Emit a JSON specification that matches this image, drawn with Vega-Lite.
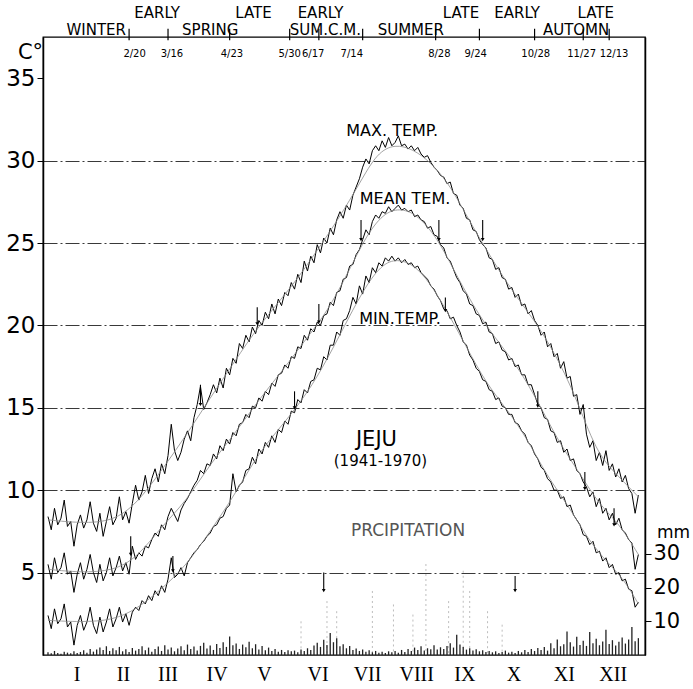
{
"$schema":"https://vega.github.io/schema/vega-lite/v6.json",
"width":602,"height":618,"autosize":"none",
"padding":{"left":43,"top":37,"right":48,"bottom":34},
"background":"white",
"config":{"view":{"stroke":"#000","strokeWidth":1.3},"axis":{"domainColor":"#000","tickColor":"#000","labelColor":"#000","titleColor":"#000","labelFont":"DejaVu Sans","titleFont":"DejaVu Sans","titleFontWeight":"normal"},"text":{"font":"DejaVu Sans","color":"#000"}},
"datasets":{
"daily":[
{"d":0,"mx":8.4,"me":5.5,"mn":2.4,"p":0.8},{"d":2,"mx":7.6,"me":4.6,"mn":1.6,"p":0.5},{"d":4,"mx":8.9,"me":5.9,"mn":2.8,"p":1.2},{"d":6,"mx":7.9,"me":5.0,"mn":1.9,"p":0.6},{"d":8,"mx":8.3,"me":5.3,"mn":2.2,"p":0.4},{"d":10,"mx":9.4,"me":6.2,"mn":3.1,"p":1.0},{"d":12,"mx":7.8,"me":4.9,"mn":1.7,"p":0.7},{"d":14,"mx":8.1,"me":5.1,"mn":2.0,"p":0.5},{"d":16,"mx":6.6,"me":3.8,"mn":0.6,"p":1.1},{"d":18,"mx":7.9,"me":4.9,"mn":1.8,"p":0.6},
{"d":20,"mx":8.5,"me":5.6,"mn":2.4,"p":0.9},{"d":22,"mx":7.7,"me":4.6,"mn":1.5,"p":1.4},{"d":24,"mx":8.2,"me":5.2,"mn":2.0,"p":0.7},{"d":26,"mx":9.3,"me":6.1,"mn":2.9,"p":1.8},{"d":28,"mx":8.0,"me":5.0,"mn":1.8,"p":1.0},{"d":30,"mx":7.5,"me":4.4,"mn":1.3,"p":1.6},{"d":32,"mx":8.6,"me":5.5,"mn":2.3,"p":2.2},{"d":34,"mx":7.2,"me":4.5,"mn":1.4,"p":1.5},{"d":36,"mx":8.1,"me":5.0,"mn":2.0,"p":2.6},{"d":38,"mx":9.0,"me":5.9,"mn":2.8,"p":1.2},
{"d":40,"mx":7.9,"me":4.8,"mn":1.7,"p":2.0},{"d":42,"mx":8.3,"me":5.3,"mn":2.2,"p":1.4},{"d":44,"mx":9.6,"me":6.0,"mn":2.9,"p":2.4},{"d":46,"mx":8.2,"me":5.1,"mn":2.0,"p":1.1},{"d":48,"mx":8.7,"me":5.6,"mn":2.5,"p":1.7},{"d":50,"mx":8.0,"me":4.9,"mn":1.8,"p":0.9},{"d":52,"mx":9.2,"me":6.6,"mn":2.6,"p":2.1},{"d":54,"mx":10.3,"me":5.8,"mn":2.9,"p":1.3},{"d":56,"mx":9.4,"me":6.2,"mn":2.7,"p":1.8},{"d":58,"mx":9.9,"me":6.0,"mn":3.3,"p":2.6},
{"d":60,"mx":10.9,"me":6.6,"mn":3.1,"p":1.4},{"d":62,"mx":9.8,"me":6.5,"mn":3.6,"p":2.2},{"d":64,"mx":10.7,"me":7.0,"mn":3.3,"p":1.0},{"d":66,"mx":11.3,"me":7.4,"mn":3.9,"p":1.8},{"d":68,"mx":10.5,"me":7.2,"mn":3.6,"p":2.5},{"d":70,"mx":11.6,"me":7.9,"mn":4.2,"p":1.2},{"d":72,"mx":11.0,"me":7.6,"mn":3.8,"p":2.9},{"d":74,"mx":12.1,"me":8.4,"mn":4.6,"p":1.6},{"d":76,"mx":14.0,"me":8.9,"mn":5.9,"p":2.2},{"d":78,"mx":12.4,"me":8.5,"mn":4.7,"p":1.1},
{"d":80,"mx":11.8,"me":8.1,"mn":4.9,"p":1.9},{"d":82,"mx":12.3,"me":8.8,"mn":5.3,"p":2.6},{"d":84,"mx":13.1,"me":9.2,"mn":4.8,"p":1.4},{"d":86,"mx":13.6,"me":9.5,"mn":5.6,"p":3.1},{"d":88,"mx":13.0,"me":9.9,"mn":5.9,"p":1.8},{"d":90,"mx":14.4,"me":10.3,"mn":6.2,"p":2.5},{"d":92,"mx":15.2,"me":10.6,"mn":6.4,"p":1.3},{"d":94,"mx":16.3,"me":11.2,"mn":6.7,"p":2.7},{"d":96,"mx":14.9,"me":11.0,"mn":6.9,"p":3.6},{"d":98,"mx":15.3,"me":11.6,"mn":7.2,"p":1.9},
{"d":100,"mx":15.8,"me":11.5,"mn":7.4,"p":2.8},{"d":102,"mx":16.4,"me":12.2,"mn":7.8,"p":1.5},{"d":104,"mx":15.9,"me":11.9,"mn":7.9,"p":3.3},{"d":106,"mx":16.8,"me":12.7,"mn":8.3,"p":2.1},{"d":108,"mx":16.2,"me":12.4,"mn":8.4,"p":3.8},{"d":110,"mx":17.4,"me":13.1,"mn":8.9,"p":2.4},{"d":112,"mx":17.0,"me":12.8,"mn":9.1,"p":5.5},{"d":114,"mx":18.0,"me":13.5,"mn":11.0,"p":2.9},{"d":116,"mx":17.7,"me":13.3,"mn":9.9,"p":3.4},{"d":118,"mx":18.9,"me":14.0,"mn":10.3,"p":1.8},
{"d":120,"mx":18.6,"me":14.1,"mn":10.5,"p":3.1},{"d":122,"mx":19.4,"me":14.6,"mn":11.2,"p":2.3},{"d":124,"mx":19.0,"me":14.4,"mn":11.3,"p":3.9},{"d":126,"mx":19.9,"me":15.1,"mn":12.0,"p":2.0},{"d":128,"mx":19.5,"me":15.0,"mn":11.6,"p":3.2},{"d":130,"mx":20.3,"me":15.6,"mn":12.5,"p":1.6},{"d":132,"mx":20.0,"me":15.4,"mn":12.2,"p":2.7},{"d":134,"mx":20.8,"me":16.0,"mn":12.9,"p":1.4},{"d":136,"mx":20.4,"me":15.8,"mn":12.6,"p":2.2},{"d":138,"mx":21.3,"me":16.5,"mn":13.3,"p":1.2},
{"d":140,"mx":20.7,"me":16.3,"mn":12.9,"p":1.8},{"d":142,"mx":21.6,"me":17.0,"mn":13.7,"p":1.0},{"d":144,"mx":21.2,"me":17.1,"mn":13.5,"p":1.5},{"d":146,"mx":22.0,"me":17.6,"mn":14.2,"p":0.9},{"d":148,"mx":21.8,"me":17.4,"mn":14.0,"p":1.4},{"d":150,"mx":22.6,"me":18.1,"mn":14.8,"p":1.1},{"d":152,"mx":22.2,"me":18.0,"mn":14.7,"p":1.3},{"d":154,"mx":23.1,"me":18.7,"mn":15.5,"p":0.8},{"d":156,"mx":22.6,"me":18.6,"mn":15.3,"p":1.6},{"d":158,"mx":23.9,"me":19.4,"mn":16.1,"p":1.2},
{"d":160,"mx":23.3,"me":19.1,"mn":15.9,"p":2.0},{"d":162,"mx":24.2,"me":19.8,"mn":16.6,"p":1.5},{"d":164,"mx":23.8,"me":19.6,"mn":16.7,"p":2.8},{"d":166,"mx":24.9,"me":20.2,"mn":17.4,"p":3.6},{"d":168,"mx":24.4,"me":20.0,"mn":17.3,"p":2.4},{"d":170,"mx":25.3,"me":20.6,"mn":18.1,"p":4.5},{"d":172,"mx":25.0,"me":20.7,"mn":17.9,"p":3.0},{"d":174,"mx":25.9,"me":21.4,"mn":18.8,"p":6.5},{"d":176,"mx":25.5,"me":21.2,"mn":18.8,"p":3.8},{"d":178,"mx":26.4,"me":22.0,"mn":19.6,"p":5.0},
{"d":180,"mx":26.9,"me":22.1,"mn":19.4,"p":2.6},{"d":182,"mx":26.5,"me":22.8,"mn":20.3,"p":3.2},{"d":184,"mx":27.3,"me":22.9,"mn":20.4,"p":2.0},{"d":186,"mx":27.0,"me":23.6,"mn":20.9,"p":2.7},{"d":188,"mx":27.9,"me":23.7,"mn":21.7,"p":1.5},{"d":190,"mx":28.4,"me":24.3,"mn":21.3,"p":1.9},{"d":192,"mx":28.9,"me":24.6,"mn":22.4,"p":1.2},{"d":194,"mx":29.6,"me":25.2,"mn":21.9,"p":1.6},{"d":196,"mx":30.1,"me":25.8,"mn":23.0,"p":1.0},{"d":198,"mx":29.8,"me":25.5,"mn":22.6,"p":1.4},
{"d":200,"mx":30.6,"me":26.3,"mn":23.5,"p":0.8},{"d":202,"mx":30.9,"me":26.7,"mn":23.2,"p":1.2},{"d":204,"mx":30.6,"me":26.5,"mn":23.8,"p":0.7},{"d":206,"mx":31.2,"me":26.9,"mn":23.6,"p":1.0},{"d":208,"mx":30.8,"me":26.8,"mn":24.1,"p":0.6},{"d":210,"mx":31.4,"me":27.2,"mn":23.9,"p":1.1},{"d":212,"mx":30.9,"me":26.9,"mn":24.2,"p":0.8},{"d":214,"mx":31.1,"me":27.1,"mn":23.9,"p":1.2},{"d":216,"mx":31.5,"me":27.3,"mn":24.1,"p":0.7},{"d":218,"mx":30.9,"me":27.0,"mn":23.8,"p":1.5},
{"d":220,"mx":31.0,"me":27.1,"mn":24.0,"p":0.9},{"d":222,"mx":30.7,"me":26.9,"mn":23.7,"p":1.8},{"d":224,"mx":30.9,"me":27.0,"mn":23.8,"p":1.2},{"d":226,"mx":30.6,"me":26.6,"mn":23.5,"p":2.2},{"d":228,"mx":30.8,"me":26.7,"mn":23.6,"p":1.5},{"d":230,"mx":30.4,"me":26.4,"mn":23.2,"p":2.6},{"d":232,"mx":30.2,"me":26.3,"mn":23.0,"p":1.3},{"d":234,"mx":30.3,"me":25.9,"mn":22.8,"p":2.0},{"d":236,"mx":29.9,"me":26.0,"mn":22.4,"p":1.7},{"d":238,"mx":29.6,"me":25.5,"mn":22.2,"p":2.9},
{"d":240,"mx":29.4,"me":25.4,"mn":21.8,"p":1.6},{"d":242,"mx":29.1,"me":24.9,"mn":21.5,"p":2.3},{"d":244,"mx":29.0,"me":24.7,"mn":21.0,"p":1.8},{"d":246,"mx":28.6,"me":24.1,"mn":20.9,"p":2.7},{"d":248,"mx":28.7,"me":23.9,"mn":20.4,"p":3.5},{"d":250,"mx":28.0,"me":23.4,"mn":20.5,"p":2.2},{"d":252,"mx":27.9,"me":22.9,"mn":20.0,"p":6.0},{"d":254,"mx":27.3,"me":22.6,"mn":19.6,"p":3.1},{"d":256,"mx":27.1,"me":22.1,"mn":19.0,"p":2.4},{"d":258,"mx":26.5,"me":21.9,"mn":18.8,"p":1.6},
{"d":260,"mx":26.4,"me":21.3,"mn":18.2,"p":2.0},{"d":262,"mx":25.8,"me":21.2,"mn":17.9,"p":1.3},{"d":264,"mx":25.7,"me":20.7,"mn":17.4,"p":1.7},{"d":266,"mx":25.2,"me":20.6,"mn":17.2,"p":1.1},{"d":268,"mx":24.9,"me":20.1,"mn":16.7,"p":1.4},{"d":270,"mx":24.7,"me":20.2,"mn":16.6,"p":0.9},{"d":272,"mx":24.1,"me":19.6,"mn":16.1,"p":1.2},{"d":274,"mx":24.0,"me":19.5,"mn":16.0,"p":0.8},{"d":276,"mx":23.4,"me":18.9,"mn":15.5,"p":1.1},{"d":278,"mx":23.5,"me":19.0,"mn":15.6,"p":0.6},
{"d":280,"mx":22.9,"me":18.5,"mn":15.1,"p":0.9},{"d":282,"mx":22.8,"me":18.4,"mn":15.0,"p":1.3},{"d":284,"mx":22.2,"me":17.9,"mn":14.6,"p":0.7},{"d":286,"mx":22.3,"me":18.0,"mn":14.6,"p":1.0},{"d":288,"mx":21.7,"me":17.5,"mn":14.1,"p":0.6},{"d":290,"mx":21.9,"me":17.6,"mn":14.0,"p":1.2},{"d":292,"mx":21.2,"me":17.0,"mn":13.6,"p":0.8},{"d":294,"mx":21.3,"me":17.0,"mn":13.4,"p":1.5},{"d":296,"mx":20.7,"me":16.4,"mn":12.9,"p":0.9},{"d":298,"mx":20.9,"me":16.4,"mn":12.7,"p":1.8},
{"d":300,"mx":20.3,"me":15.8,"mn":12.2,"p":1.2},{"d":302,"mx":20.0,"me":15.2,"mn":11.9,"p":2.1},{"d":304,"mx":19.4,"me":15.0,"mn":11.4,"p":1.5},{"d":306,"mx":19.6,"me":14.4,"mn":11.2,"p":2.4},{"d":308,"mx":18.7,"me":14.3,"mn":10.7,"p":1.3},{"d":310,"mx":18.9,"me":13.6,"mn":10.5,"p":3.5},{"d":312,"mx":18.1,"me":13.5,"mn":10.0,"p":2.0},{"d":314,"mx":18.3,"me":12.9,"mn":10.0,"p":4.6},{"d":316,"mx":17.4,"me":13.0,"mn":9.5,"p":2.6},{"d":318,"mx":17.8,"me":12.3,"mn":9.6,"p":3.2},
{"d":320,"mx":16.8,"me":12.5,"mn":9.0,"p":7.0},{"d":322,"mx":16.9,"me":11.8,"mn":9.1,"p":3.8},{"d":324,"mx":15.7,"me":11.9,"mn":8.5,"p":2.5},{"d":326,"mx":15.8,"me":11.2,"mn":8.2,"p":5.4},{"d":328,"mx":14.6,"me":11.0,"mn":7.9,"p":3.0},{"d":330,"mx":15.2,"me":10.5,"mn":7.3,"p":4.2},{"d":332,"mx":13.4,"me":10.2,"mn":7.2,"p":2.7},{"d":334,"mx":12.6,"me":9.6,"mn":6.7,"p":6.8},{"d":336,"mx":13.0,"me":9.9,"mn":6.9,"p":3.5},{"d":338,"mx":11.8,"me":9.0,"mn":6.2,"p":4.8},
{"d":340,"mx":12.3,"me":9.5,"mn":6.3,"p":2.9},{"d":342,"mx":11.5,"me":8.6,"mn":5.7,"p":4.0},{"d":344,"mx":12.4,"me":8.9,"mn":5.9,"p":7.5},{"d":346,"mx":11.2,"me":8.2,"mn":5.3,"p":3.3},{"d":348,"mx":11.6,"me":8.6,"mn":5.5,"p":4.4},{"d":350,"mx":10.8,"me":7.9,"mn":4.9,"p":2.8},{"d":352,"mx":11.3,"me":8.3,"mn":5.0,"p":3.9},{"d":354,"mx":10.5,"me":7.6,"mn":4.5,"p":5.2},{"d":356,"mx":10.9,"me":7.4,"mn":4.6,"p":3.4},{"d":358,"mx":10.1,"me":7.0,"mn":4.0,"p":4.6},
{"d":360,"mx":9.8,"me":6.8,"mn":3.9,"p":8.3},{"d":362,"mx":8.6,"me":5.2,"mn":2.9,"p":4.1},{"d":364,"mx":9.7,"me":6.1,"mn":3.2,"p":5.0}
],
"smooth":[
{"s":"a","d":0,"T":8.2},{"s":"a","d":20,"T":8.0},{"s":"a","d":40,"T":8.1},{"s":"a","d":55,"T":9.2},{"s":"a","d":70,"T":11.2},{"s":"a","d":85,"T":13.3},{"s":"a","d":100,"T":15.6},{"s":"a","d":115,"T":17.8},{"s":"a","d":130,"T":20.0},{"s":"a","d":150,"T":22.3},{"s":"a","d":165,"T":24.4},{"s":"a","d":180,"T":26.6},{"s":"a","d":192,"T":28.6},{"s":"a","d":203,"T":30.5},{"s":"a","d":214,"T":31.0},{"s":"a","d":225,"T":30.7},{"s":"a","d":236,"T":29.9},{"s":"a","d":248,"T":28.5},{"s":"a","d":260,"T":26.3},{"s":"a","d":272,"T":24.3},{"s":"a","d":286,"T":22.1},{"s":"a","d":300,"T":20.3},{"s":"a","d":312,"T":18.4},{"s":"a","d":325,"T":15.8},{"s":"a","d":338,"T":12.3},{"s":"a","d":350,"T":11.0},{"s":"a","d":364,"T":9.6},
{"s":"b","d":0,"T":5.2},{"s":"b","d":20,"T":5.0},{"s":"b","d":40,"T":5.1},{"s":"b","d":55,"T":5.9},{"s":"b","d":70,"T":7.8},{"s":"b","d":85,"T":9.3},{"s":"b","d":100,"T":11.6},{"s":"b","d":115,"T":13.4},{"s":"b","d":130,"T":15.5},{"s":"b","d":145,"T":17.3},{"s":"b","d":160,"T":19.3},{"s":"b","d":172,"T":20.8},{"s":"b","d":185,"T":23.2},{"s":"b","d":197,"T":25.6},{"s":"b","d":208,"T":26.9},{"s":"b","d":218,"T":27.1},{"s":"b","d":228,"T":26.7},{"s":"b","d":240,"T":25.3},{"s":"b","d":250,"T":23.4},{"s":"b","d":262,"T":21.2},{"s":"b","d":275,"T":19.3},{"s":"b","d":289,"T":17.6},{"s":"b","d":302,"T":15.4},{"s":"b","d":315,"T":12.9},{"s":"b","d":328,"T":11.0},{"s":"b","d":340,"T":9.1},{"s":"b","d":352,"T":8.0},{"s":"b","d":364,"T":6.1},
{"s":"c","d":0,"T":2.1},{"s":"c","d":20,"T":2.0},{"s":"c","d":40,"T":2.1},{"s":"c","d":55,"T":2.8},{"s":"c","d":70,"T":4.0},{"s":"c","d":85,"T":5.4},{"s":"c","d":100,"T":7.5},{"s":"c","d":115,"T":9.7},{"s":"c","d":130,"T":12.3},{"s":"c","d":145,"T":14.0},{"s":"c","d":160,"T":15.9},{"s":"c","d":172,"T":17.9},{"s":"c","d":185,"T":20.4},{"s":"c","d":197,"T":22.6},{"s":"c","d":208,"T":23.9},{"s":"c","d":218,"T":24.0},{"s":"c","d":228,"T":23.5},{"s":"c","d":238,"T":22.2},{"s":"c","d":248,"T":20.5},{"s":"c","d":258,"T":18.7},{"s":"c","d":270,"T":16.5},{"s":"c","d":283,"T":14.9},{"s":"c","d":295,"T":13.2},{"s":"c","d":308,"T":10.8},{"s":"c","d":320,"T":9.2},{"s":"c","d":333,"T":7.0},{"s":"c","d":345,"T":5.6},{"s":"c","d":355,"T":4.6},{"s":"c","d":364,"T":3.1}
],
"faint":[{"d":156,"p":10},{"d":172,"p":16},{"d":178,"p":13},{"d":200,"p":19},{"d":213,"p":15},{"d":225,"p":12},{"d":233,"p":27},{"d":247,"p":16},{"d":256,"p":25},{"d":260,"p":19},{"d":271,"p":13},{"d":280,"p":9}],
"arrows":[{"d":193,"t1":26.4,"t2":25.2},{"d":241,"t1":26.4,"t2":25.2},{"d":268,"t1":26.4,"t2":25.2},{"d":167,"t1":21.3,"t2":20.2},{"d":245,"t1":21.7,"t2":20.9},{"d":152,"t1":16.0,"t2":15.0},{"d":302,"t1":16.0,"t2":15.1},{"d":331,"t1":11.1,"t2":10.1},{"d":349,"t1":8.9,"t2":7.9},{"d":170,"t1":5.0,"t2":3.9},{"d":288,"t1":4.8,"t2":3.9},{"d":94,"t1":16.4,"t2":15.2},{"d":129,"t1":21.1,"t2":20.1},{"d":51,"t1":7.2,"t2":6.1},{"d":77,"t1":6.0,"t2":5.1}],
"ticks":[{"d":50},{"d":74},{"d":112},{"d":149},{"d":167},{"d":194},{"d":239},{"d":266},{"d":300},{"d":330},{"d":346}],
"dates":[{"d":53.4,"t":"2/20"},{"d":76.4,"t":"3/16"},{"d":113.4,"t":"4/23"},{"d":149,"t":"5/30"},{"d":163.5,"t":"6/17"},{"d":187.3,"t":"7/14"},{"d":241.3,"t":"8/28"},{"d":263.7,"t":"9/24"},{"d":300.7,"t":"10/28"},{"d":329,"t":"11/27"},{"d":349,"t":"12/13"}],
"months":[{"d":18,"t":"I"},{"d":46.5,"t":"II"},{"d":74,"t":"III"},{"d":104.3,"t":"IV"},{"d":133.5,"t":"V"},{"d":166.5,"t":"VI"},{"d":197,"t":"VII"},{"d":227.3,"t":"VIII"},{"d":257,"t":"IX"},{"d":287.3,"t":"X"},{"d":318.3,"t":"XI"},{"d":348.5,"t":"XII"}],
"upper":[{"d":67.3,"t":"EARLY"},{"d":126.7,"t":"LATE"},{"d":168,"t":"EARLY"},{"d":254.6,"t":"LATE"},{"d":289.2,"t":"EARLY"},{"d":337.7,"t":"LATE"}],
"lower":[{"d":29.7,"t":"WINTER"},{"d":100,"t":"SPRING"},{"d":171,"t":"SUM.C.M."},{"d":223.7,"t":"SUMMER"},{"d":325.6,"t":"AUTOMN"}],
"curvelabels":[{"d":212.2,"T":31.8,"t":"MAX. TEMP."},{"d":220.1,"T":27.7,"t":"MEAN TEM."},{"d":217,"T":20.4,"t":"MIN.TEMP."}],
"station":[{"d":202.5,"T":13.05,"t":"JEJU"}],
"period":[{"d":205,"T":11.8,"t":"(1941-1970)"}],
"preciplabel":[{"d":222,"T":7.5,"t":"PRCIPITATION"}]
},
"layer":[
{"data":{"name":"faint"},"mark":{"type":"rule","color":"#b5b5b5","strokeWidth":0.9,"strokeDash":[2,3]},
"encoding":{"x":{"field":"d","type":"quantitative","scale":{"domain":[0,365],"nice":false,"zero":false},"axis":null},
"y":{"field":"p","type":"quantitative","scale":{"domain":[0,183.4],"nice":false},"axis":null},"y2":{"datum":0}}},
{"data":{"name":"daily"},"mark":{"type":"bar","width":1.3,"color":"#222"},
"encoding":{"x":{"field":"d","type":"quantitative","scale":{"domain":[0,365],"nice":false,"zero":false},"axis":null},
"y":{"field":"p","type":"quantitative","scale":{"domain":[0,183.4],"nice":false},
"axis":{"orient":"right","values":[10,20,30],"tickSize":6,"labelPadding":2,"labelFontSize":21,"grid":false,"title":"mm","titleAngle":0,"titleX":28,"titleY":495,"titleAlign":"center","titleBaseline":"middle","titleFontSize":17,"domainWidth":1.5}}}},
{"data":{"name":"daily"},"transform":[{"fold":["mx","me","mn"],"as":["s","T"]}],
"mark":{"type":"line","color":"#000","strokeWidth":1},
"encoding":{"x":{"field":"d","type":"quantitative","axis":null},
"y":{"field":"T","type":"quantitative","scale":{"domain":[0,37.5],"nice":false},
"axis":{"orient":"left","values":[5,10,15,20,25,30,35],"tickSize":6,"labelPadding":2,"labelFontSize":23,"grid":true,"gridColor":"#222","gridWidth":0.9,"gridDash":[14,3,2,3],"gridOpacity":{"condition":{"test":"datum.value == 35","value":0},"value":1},"title":"C°","titleAngle":0,"titleX":-13,"titleY":15,"titleAlign":"center","titleBaseline":"middle","titleFontSize":21,"domainWidth":1.5}},
"detail":{"field":"s"}}},
{"data":{"name":"smooth"},"mark":{"type":"line","color":"#8c8c8c","strokeWidth":0.8,"interpolate":"basis"},
"encoding":{"x":{"field":"d","type":"quantitative","axis":null},"y":{"field":"T","type":"quantitative","scale":{"domain":[0,37.5],"nice":false},"axis":null},"detail":{"field":"s"}}},
{"data":{"name":"arrows"},"mark":{"type":"rule","color":"#000","strokeWidth":1.1},
"encoding":{"x":{"field":"d","type":"quantitative","axis":null},"y":{"field":"t1","type":"quantitative","scale":{"domain":[0,37.5],"nice":false},"axis":null},"y2":{"field":"t2"}}},
{"data":{"name":"arrows"},"mark":{"type":"point","shape":"triangle-down","filled":true,"color":"#000","size":14,"opacity":1},
"encoding":{"x":{"field":"d","type":"quantitative","axis":null},"y":{"field":"t2","type":"quantitative","scale":{"domain":[0,37.5],"nice":false},"axis":null}}},
{"data":{"name":"ticks"},"mark":{"type":"rule","color":"#000","strokeWidth":1.2,"clip":false},
"encoding":{"x":{"field":"d","type":"quantitative","axis":null},"y":{"datum":37.3,"scale":{"domain":[0,37.5],"nice":false},"axis":null},"y2":{"datum":38.0}}},
{"data":{"name":"dates"},"mark":{"type":"text","fontSize":10,"align":"center","baseline":"middle"},
"encoding":{"x":{"field":"d","type":"quantitative","axis":null},"y":{"datum":36.45,"scale":{"domain":[0,37.5],"nice":false},"axis":null},"text":{"field":"t"}}},
{"data":{"name":"months"},"mark":{"type":"text","fontSize":20,"font":"Liberation Serif","align":"center","baseline":"middle"},
"encoding":{"x":{"field":"d","type":"quantitative","axis":null},"y":{"datum":-1.2,"scale":{"domain":[0,37.5],"nice":false},"axis":null},"text":{"field":"t"}}},
{"data":{"name":"upper"},"mark":{"type":"text","fontSize":15,"align":"center","baseline":"middle"},
"encoding":{"x":{"field":"d","type":"quantitative","axis":null},"y":{"datum":38.95,"scale":{"domain":[0,37.5],"nice":false},"axis":null},"text":{"field":"t"}}},
{"data":{"name":"lower"},"mark":{"type":"text","fontSize":15,"align":"center","baseline":"middle"},
"encoding":{"x":{"field":"d","type":"quantitative","axis":null},"y":{"datum":37.9,"scale":{"domain":[0,37.5],"nice":false},"axis":null},"text":{"field":"t"}}},
{"data":{"name":"curvelabels"},"mark":{"type":"text","fontSize":16,"align":"center","baseline":"middle"},
"encoding":{"x":{"field":"d","type":"quantitative","axis":null},"y":{"field":"T","type":"quantitative","scale":{"domain":[0,37.5],"nice":false},"axis":null},"text":{"field":"t"}}},
{"data":{"name":"station"},"mark":{"type":"text","fontSize":21,"align":"center","baseline":"middle"},
"encoding":{"x":{"field":"d","type":"quantitative","axis":null},"y":{"field":"T","type":"quantitative","scale":{"domain":[0,37.5],"nice":false},"axis":null},"text":{"field":"t"}}},
{"data":{"name":"period"},"mark":{"type":"text","fontSize":15,"align":"center","baseline":"middle"},
"encoding":{"x":{"field":"d","type":"quantitative","axis":null},"y":{"field":"T","type":"quantitative","scale":{"domain":[0,37.5],"nice":false},"axis":null},"text":{"field":"t"}}},
{"data":{"name":"preciplabel"},"mark":{"type":"text","fontSize":17,"align":"center","baseline":"middle","color":"#555"},
"encoding":{"x":{"field":"d","type":"quantitative","axis":null},"y":{"field":"T","type":"quantitative","scale":{"domain":[0,37.5],"nice":false},"axis":null},"text":{"field":"t"}}}
],
"resolve":{"scale":{"y":"independent"}}
}
